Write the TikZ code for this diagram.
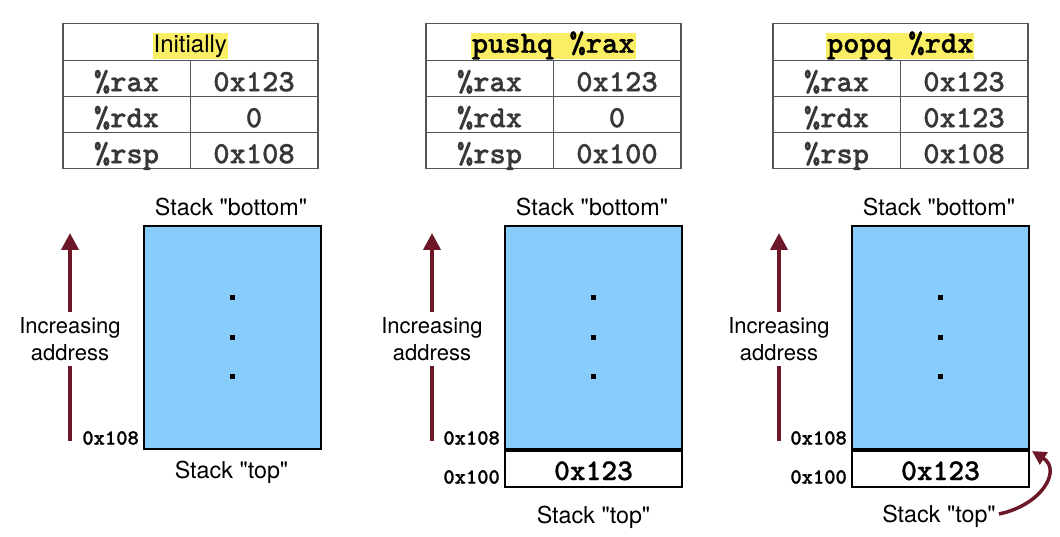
\documentclass[tikz,border=0pt]{standalone}
\usepackage{fontspec}
\setmainfont{TeX Gyre Heros}[Ligatures=TeXOff]
\newfontfamily\cour{lmmonolt10-bold.otf}[FakeBold=0.9]
\newfontfamily\helv{TeX Gyre Heros}[Ligatures=TeXOff]
\usetikzlibrary{arrows.meta,calc}
\definecolor{hl}{RGB}{250,238,100}
\definecolor{stackblue}{RGB}{135,204,250}
\definecolor{maroon}{RGB}{108,24,40}
\definecolor{tabline}{RGB}{85,85,85}
\definecolor{tabtext}{RGB}{55,55,55}
\newcommand\monobig{\cour\fontsize{31}{31}\selectfont}
\newcommand\monosmall{\cour\fontsize{21.5}{21.5}\selectfont}
\newcommand\monocell{\cour\fontsize{30}{30}\selectfont}
\newcommand\sanstext{\helv\fontsize{22}{27}\selectfont}
\newcommand\stacktext{\helv\fontsize{23.3}{27}\selectfont}
\tikzset{
  tabcell/.style={draw=tabline, line width=1.5pt, inner sep=0pt, text=tabtext, font=\monobig, text height=25pt, text depth=0pt},
  hdrcell/.style={tabcell, minimum width=255pt, minimum height=37pt},
  lcell/.style={tabcell, minimum width=127.5pt, minimum height=36pt},
  hlbox/.style={fill=hl, inner xsep=1pt, inner ysep=0pt, text height=20pt, text depth=6pt, text=black},
  stackbox/.style={draw=black, line width=2pt, fill=stackblue, inner sep=0pt, minimum width=177pt, minimum height=223pt, anchor=north west},
  valcell/.style={draw=black, line width=2pt, fill=white, inner sep=0pt, minimum width=177pt, minimum height=36pt, anchor=north west, font=\monocell, text height=22pt, text depth=0pt},
  dotnode/.style={fill=black, inner sep=0pt, minimum size=5pt},
  addrlabel/.style={font=\monosmall, anchor=east, inner sep=0pt},
  stacklabel/.style={font=\stacktext, inner sep=0pt},
  incrlabel/.style={font=\sanstext, align=center, fill=white, inner xsep=0pt, inner ysep=5pt},
  uparrow/.style={draw=maroon, line width=4pt, -{Triangle[length=17pt,width=17pt]}},
  curvearrow/.style={draw=maroon, line width=3.5pt, -{Triangle[length=14pt,width=14pt]}}
}
\newcommand\regtable[6]{%
  \node[hdrcell, anchor=north west] (#1h) at (#2,23) {};
  \node[hlbox, font=\monobig] (#1ht) at ([yshift=-3.5pt]#1h.center) {#3};
  \node[lcell, anchor=north west] (#1ra) at (#2,60) {\%rax};
  \node[lcell, anchor=north west] (#1rb) at ($(#2,60)+(127.5,0)$) {#4};
  \node[lcell, anchor=north west] (#1da) at (#2,96) {\%rdx};
  \node[lcell, anchor=north west] (#1db) at ($(#2,96)+(127.5,0)$) {#5};
  \node[lcell, anchor=north west] (#1sa) at (#2,132) {\%rsp};
  \node[lcell, anchor=north west] (#1sb) at ($(#2,132)+(127.5,0)$) {#6};
}
\newcommand\stackcol[3]{% #1 prefix, #2 box left x, #3 arrow x
  \node[stackbox] (#1) at (#2,225) {};
  \node[stacklabel, anchor=base] (#1bot) at ($(#1.north)+(-1.5,-9)$) {Stack "bottom"};
  \node[dotnode] (#1d1) at ($(#1.north)+(0,73)$) {};
  \node[dotnode] (#1d2) at ($(#1.north)+(0,112)$) {};
  \node[dotnode] (#1d3) at ($(#1.north)+(0,151)$) {};
  \node[addrlabel] (#1a108) at ($(#1.south west)+(-4,-12)$) {0x108};
  \coordinate (#1arrb) at (#3,441);
  \coordinate (#1arrt) at (#3,233);
  \draw[uparrow] (#1arrb) -- (#1arrt);
  \node[incrlabel] (#1inc) at (#3,339) {Increasing\\address};
}
\begin{document}
\begin{tikzpicture}[x=1pt,y=-1pt]
\useasboundingbox (0,0) rectangle (1060,537);
% tables
\regtable{ta}{62}{{\helv\fontsize{24}{24}\selectfont Initially}}{0x123}{0}{0x108}
\regtable{tb}{425}{pushq \%rax}{0x123}{0}{0x100}
\regtable{tc}{772}{popq \%rdx}{0x123}{0x123}{0x108}
% stacks
\stackcol{sa}{143}{70}
\stackcol{sb}{504}{432}
\stackcol{sc}{851}{779}
\node[stacklabel] (satop) at ($(sa.south)+(-1,22)$) {Stack "top"};
% pushed cells
\node[valcell] (sbv) at (sb.south west) {0x123};
\node[addrlabel] (sba100) at ($(sbv.south west)+(-4,-11)$) {0x100};
\node[stacklabel] (sbtop) at ($(sbv.south)+(0,29)$) {Stack "top"};
\node[valcell] (scv) at (sc.south west) {0x123};
\node[addrlabel] (sca100) at ($(scv.south west)+(-4,-11)$) {0x100};
\node[stacklabel] (sctop) at ($(scv.south)+(-1.5,28)$) {Stack "top"};
\draw[curvearrow] ([xshift=3pt,yshift=2pt]sctop.east) .. controls (1042,505) and (1062,470) .. ([xshift=2pt,yshift=-1pt]sc.south east);
\end{tikzpicture}
\end{document}
